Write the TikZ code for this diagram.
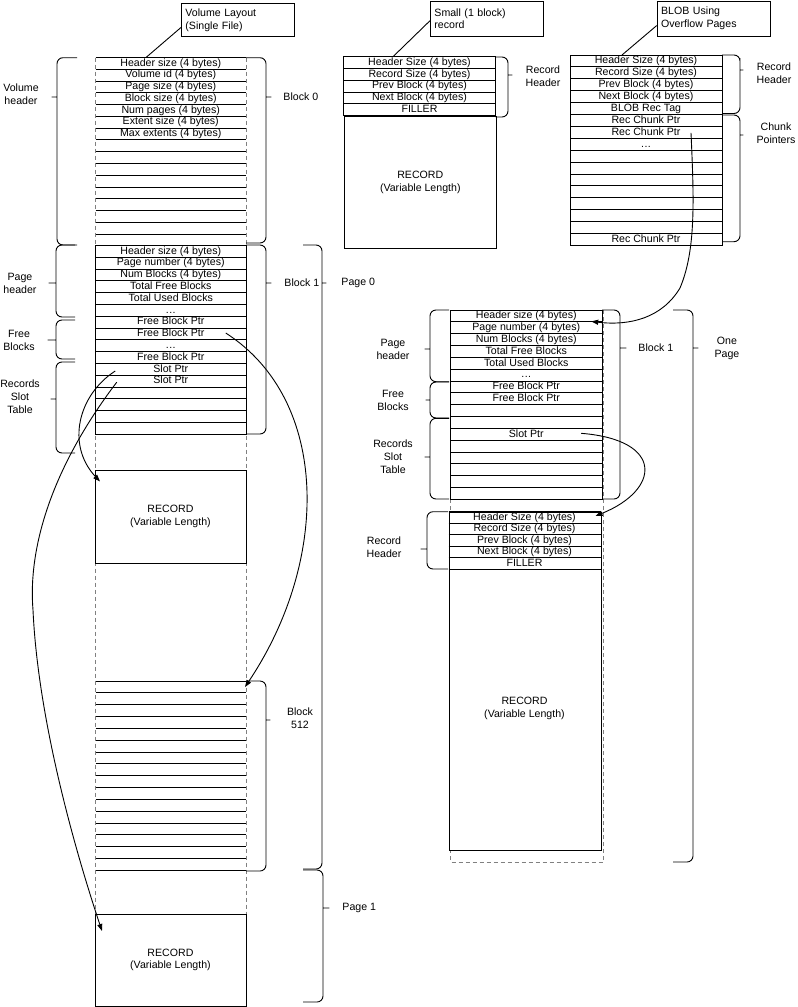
\documentclass[tikz,border=0pt]{standalone}
\usepackage{fontspec}
\setmainfont{Liberation Sans}
\usetikzlibrary{arrows.meta,calc}
\newcommand\mybrace[6]{\draw[rounded corners=6pt] (#1,#4) -- (#2,#4) -- (#2,{#5-6}) .. controls (#2,#5) .. (#3,#5) .. controls (#2,#5) .. (#2,{#5+6}) -- (#2,#6) -- (#1,#6);}
\newcommand\hrows[5]{\foreach \k in {0,...,#5} {\draw (#1,{#3+#4*\k}) -- (#2,{#3+#4*\k});}}
\newcommand\rowtext[6]{\foreach \k/\t in {#6} {\node[lbl] (#1\k) at ({(#2+#3)/2},{#4+#5*(\k+0.5)}) {\t};}}
\newcommand\tdots{.\kern0.4pt.\kern0.4pt.}
\begin{document}
\begin{tikzpicture}[x=1pt,y=-1pt,line width=0.9pt,
  fnt/.style={font=\fontsize{10.6}{12.8}\selectfont},
  lbl/.style={fnt, inner sep=0pt, text height=7.5pt, text depth=2pt},
  mlbl/.style={fnt, inner sep=0pt, align=center},
  llbl/.style={fnt, inner sep=0pt, anchor=west},
  dcol/.style={draw={rgb,255:red,128;green,128;blue,128}, dash pattern=on 4pt off 3pt},
  arr/.style={-{Triangle[length=7pt,width=5pt]}},
  recbox/.style={draw, fill=white, anchor=north west, minimum width=151pt, align=center, inner sep=0pt, fnt},
  callout/.style={draw, fill=white, anchor=north west, minimum width=113pt, minimum height=33pt, text width=105pt, align=left, inner sep=4pt, fnt}
]
\useasboundingbox (0,0) rectangle (798,1007);

% ---------- dashed columns ----------
\draw[dcol] (95.5,57.5) -- (95.5,1005.5);
\draw[dcol] (246,57.5) -- (246,1005.5);
\draw[dcol] (450.5,310) -- (450.5,862) -- (603,862) -- (603,310);

% ---------- left column: block 0 ----------
\hrows{95.5}{246}{57.5}{11.77}{16}
\rowtext{bz}{95.5}{246}{57.5}{11.77}{0/Header size (4 bytes),1/Volume id (4 bytes),2/Page size (4 bytes),3/Block size (4 bytes),4/Num pages (4 bytes),5/Extent size (4 bytes),6/Max extents (4 bytes)}
\coordinate (vlp) at (146,57.5);

% ---------- block 1 ----------
\draw (95.5,245.5) rectangle (246,434.3);
\hrows{95.5}{246}{245.5}{11.8}{16}
\rowtext{bo}{95.5}{246}{245.5}{11.8}{0/Header size (4 bytes),1/Page number (4 bytes),2/Num Blocks (4 bytes),3/Total Free Blocks,4/Total Used Blocks,5/\tdots,6/Free Block Ptr,7/Free Block Ptr,8/\tdots,9/Free Block Ptr,10/Slot Ptr,11/Slot Ptr}

% ---------- record 1 ----------
\node[recbox, minimum height=93pt] (rec1) at (94.5,469.5) {RECORD\\(Variable Length)};

% ---------- block 512 ----------
\hrows{95.5}{246}{681}{11.83}{16}
\coordinate (b512) at (246,681);

% ---------- record 2 ----------
\node[recbox, minimum height=92pt] (rec2) at (94.5,913.5) {RECORD\\(Variable Length)};

% ---------- callout: volume layout ----------
\node[callout] (vl) at (181,3) {Volume Layout\\(Single File)};
\draw (vlp) -- ($(vl.west)+(0,7.5)$);

% ---------- small record ----------
\draw (343.5,56.7) rectangle (495.5,115.7);
\hrows{343.5}{495.5}{56.7}{11.8}{5}
\rowtext{sr}{343.5}{495.5}{56.7}{11.8}{0/Header Size (4 bytes),1/Record Size (4 bytes),2/Prev Block (4 bytes),3/Next Block (4 bytes),4/FILLER}
\node[recbox, minimum width=152pt, minimum height=132pt, line width=1.6pt] (srrec) at (343.5,115.7) {RECORD\\(Variable Length)};
\node[callout, minimum height=35.5pt] (sm) at (430,0.5) {Small (1 block)\\record};
\coordinate (smp) at (393,56.7);
\draw (smp) -- ($(sm.west)+(0,2)$);

% ---------- BLOB ----------
\draw (570,55) rectangle (722,245.4);
\hrows{570}{722}{55}{11.9}{16}
\rowtext{bl}{570}{722}{55}{11.9}{0/Header Size (4 bytes),1/Record Size (4 bytes),2/Prev Block (4 bytes),3/Next Block (4 bytes),4/BLOB Rec Tag,5/Rec Chunk Ptr,6/Rec Chunk Ptr,7/\tdots,15/Rec Chunk Ptr}
\node[callout, minimum height=35.2pt] (bb) at (656.7,0.5) {BLOB Using\\Overflow Pages};
\coordinate (bbp) at (622,55);
\draw (bbp) -- ($(bb.west)+(0,7)$);

% ---------- right page ----------
\draw (450.5,310) rectangle (602,499.4);
\hrows{450.5}{602}{310}{11.84}{16}
\rowtext{rp}{450.5}{602}{310}{11.84}{0/Header size (4 bytes),1/Page number (4 bytes),2/Num Blocks (4 bytes),3/Total Free Blocks,4/Total Used Blocks,5/\tdots,6/Free Block Ptr,7/Free Block Ptr,10/Slot Ptr}
\node[draw, fill=white, anchor=north west, minimum width=152pt, minimum height=337.8pt, inner sep=0pt] (rprec) at (448.5,511.7) {};
\hrows{448.5}{600.5}{511.7}{11.52}{5}
\rowtext{rh}{448.5}{600.5}{511.7}{11.52}{0/Header Size (4 bytes),1/Record Size (4 bytes),2/Prev Block (4 bytes),3/Next Block (4 bytes),4/FILLER}
\node[mlbl] (rprect) at (524.5,708.5) {RECORD\\(Variable Length)};

% ---------- braces ----------
\mybrace{77}{57}{48}{57.7}{97}{245}
\mybrace{246}{266}{275}{57.7}{97}{243}
\mybrace{75}{56}{45}{245}{283}{317}
\mybrace{75}{56}{44}{320}{340}{359}
\mybrace{75}{56}{47}{362}{399}{453}
\mybrace{246}{266}{275}{245}{283}{434}
\mybrace{303}{322}{330}{245}{283}{869}
\mybrace{246}{266}{274}{681}{720}{871}
\mybrace{303}{323}{333}{870}{908}{1002}
\mybrace{495.5}{508}{516}{57}{75}{117}
\mybrace{722}{740}{747}{55}{70}{113.5}
\mybrace{722}{740}{747}{115}{135}{241.7}
\mybrace{449}{430}{421}{310}{349}{381.7}
\mybrace{449}{430}{422}{382}{400}{418}
\mybrace{449}{430}{421}{418.3}{457}{499}
\mybrace{448}{427}{417}{511.7}{549}{569}
\mybrace{602}{620}{630}{310}{348}{499}
\mybrace{673}{693}{702}{310}{348}{862}

% ---------- brace labels ----------
\node[mlbl] (lvh) at (21,94) {Volume\\header};
\node[llbl] (lb0) at (283,97) {Block 0};
\node[mlbl] (lph) at (20,283) {Page\\header};
\node[mlbl] (lfb) at (19,340) {Free\\Blocks};
\node[mlbl] (lrs) at (20,397) {Records\\Slot\\Table};
\node[llbl] (lb1) at (284,283) {Block 1};
\node[llbl] (lp0) at (341,283) {Page 0};
\node[mlbl] (lb512) at (300,718) {Block\\512};
\node[llbl] (lp1) at (342,908) {Page 1};
\node[mlbl] (lsrh) at (543,76) {Record\\Header};
\node[mlbl] (lbrh) at (774,73) {Record\\Header};
\node[mlbl] (lcp) at (776,133.5) {Chunk\\Pointers};
\node[mlbl] (rph) at (393,349) {Page\\header};
\node[mlbl] (rfb) at (393,400) {Free\\Blocks};
\node[mlbl] (rrs) at (393,457) {Records\\Slot\\Table};
\node[mlbl] (rrh) at (384,547) {Record\\Header};
\node[llbl] (rb1) at (638,348) {Block 1};
\node[mlbl] (rop) at (727,348) {One\\Page};

% ---------- connectors ----------
\coordinate (c1e) at ($(rec1.north west)+(5.5,12)$);
\coordinate (c2e) at ($(rec2.north west)+(7.5,17.5)$);
\coordinate (c3e) at ($(b512)+(-1,6)$);
\coordinate (c4e) at ($(rp0)+(65,5.5)$);
\coordinate (c5e) at ($(rh0)+(71,-1.5)$);
\draw[arr] ($(bo10)+(-55.5,1.6)$) .. controls (78,395) and (66,445) .. (c1e);
\draw[arr] ($(bo11)+(-54,1)$) .. controls (50,470) and (28,550) .. (33,610) .. controls (38,720) and (75,850) .. (c2e);
\draw[arr] ($(bo7)+(55,-1)$) .. controls (330,400) and (330,560) .. (c3e);
\draw[arr] ($(bl6)+(45,0.5)$) .. controls (694,200) and (696,250) .. (680,288) .. controls (662,318) and (630,326) .. (c4e);
\draw[arr] ($(rp10)+(55,-1)$) .. controls (665,440) and (660,490) .. (c5e);
\end{tikzpicture}
\end{document}
